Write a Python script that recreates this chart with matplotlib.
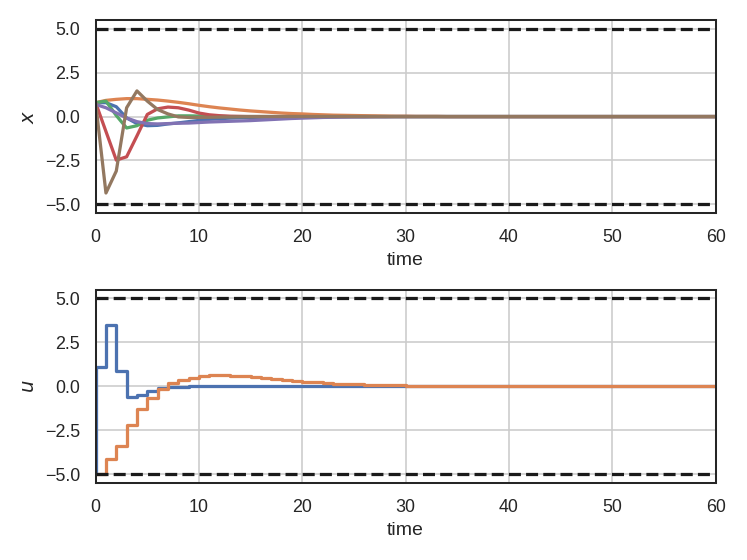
import numpy as np
import matplotlib
matplotlib.use("Agg")
import matplotlib.pyplot as plt
import seaborn as sns

# time grid and bounds
t = list(range(61))
x_max = 5.0
u_max = 5.0

# states
x1 = [0.79, 0.79, 0.56, -0.08, -0.40, -0.52, -0.50, -0.42, -0.36, -0.29, -0.22,
      -0.16, -0.12, -0.09, -0.07, -0.05, -0.04, -0.03, -0.02, -0.02, -0.01,
      -0.01, 0, 0, 0, 0, 0, 0, 0, 0, 0, 0, 0, 0, 0, 0, 0, 0, 0, 0, 0,
      0, 0, 0, 0, 0, 0, 0, 0, 0, 0, 0, 0, 0, 0, 0, 0, 0, 0, 0, 0]
x2 = [0.79, 0.92, 0.98, 1.02, 1.02, 0.98, 0.94, 0.88, 0.81, 0.73, 0.64,
      0.56, 0.49, 0.43, 0.37, 0.32, 0.28, 0.24, 0.20, 0.17, 0.15,
      0.12, 0.10, 0.08, 0.07, 0.06, 0.05, 0.04, 0.03, 0.02, 0.02,
      0.01, 0.01, 0.01, 0, 0, 0, 0, 0, 0, 0,
      0, 0, 0, 0, 0, 0, 0, 0, 0, 0, 0, 0, 0, 0, 0, 0, 0, 0, 0, 0]
x3 = [0.79, 0.88, 0.06, -0.65, -0.52, -0.21, -0.08, -0.02, 0.04, 0.04, 0.03,
      0.02, 0.01, 0, 0, 0, 0, 0, 0, 0, 0, 0, 0, 0, 0, 0, 0, 0, 0, 0, 0,
      0, 0, 0, 0, 0, 0, 0, 0, 0, 0, 0, 0, 0, 0, 0, 0, 0, 0, 0, 0,
      0, 0, 0, 0, 0, 0, 0, 0, 0, 0]
x4 = [0.79, -0.85, -2.48, -2.29, -1.10, 0.12, 0.44, 0.54, 0.50, 0.37, 0.20,
      0.10, 0.05, 0.02, 0.01, 0, 0, 0, 0, 0, 0, 0, 0, 0, 0, 0, 0, 0, 0, 0, 0,
      0, 0, 0, 0, 0, 0, 0, 0, 0, 0, 0, 0, 0, 0, 0, 0, 0, 0, 0, 0,
      0, 0, 0, 0, 0, 0, 0, 0, 0, 0]
x5 = [0.69, 0.50, 0.21, -0.08, -0.29, -0.40, -0.42, -0.40, -0.38, -0.37, -0.34,
      -0.31, -0.29, -0.27, -0.25, -0.23, -0.20, -0.17, -0.14, -0.11, -0.09,
      -0.07, -0.05, -0.04, -0.03, -0.02, -0.02, -0.01, -0.01, 0, 0,
      0, 0, 0, 0, 0, 0, 0, 0, 0, 0, 0, 0, 0, 0, 0, 0, 0, 0, 0, 0,
      0, 0, 0, 0, 0, 0, 0, 0, 0, 0]
x6 = [0.79, -4.35, -3.10, 0.50, 1.46, 0.88, 0.40, 0.15, -0.02, -0.05, -0.05,
      -0.04, -0.03, -0.02, -0.01, 0, 0, 0, 0, 0, 0, 0, 0, 0, 0, 0, 0, 0, 0, 0, 0,
      0, 0, 0, 0, 0, 0, 0, 0, 0, 0, 0, 0, 0, 0, 0, 0, 0, 0, 0, 0,
      0, 0, 0, 0, 0, 0, 0, 0, 0, 0]

# inputs, drawn as steps
u1 = [-5.0, 1.09, 3.50, 0.86, -0.60, -0.47, -0.29, -0.12, -0.05, -0.02, -0.01,
      0, 0, 0, 0, 0, 0, 0, 0, 0, 0, 0, 0, 0, 0, 0, 0, 0, 0, 0, 0,
      0, 0, 0, 0, 0, 0, 0, 0, 0, 0, 0, 0, 0, 0, 0, 0, 0, 0, 0, 0,
      0, 0, 0, 0, 0, 0, 0, 0, 0, 0]
u2 = [-5.0, -5.0, -4.15, -3.42, -2.20, -1.30, -0.66, -0.14, 0.18, 0.37, 0.50,
      0.58, 0.62, 0.63, 0.61, 0.57, 0.52, 0.47, 0.42, 0.37, 0.30,
      0.26, 0.22, 0.19, 0.16, 0.13, 0.11, 0.09, 0.07, 0.06, 0.05,
      0.04, 0.03, 0.03, 0.02, 0.02, 0.01, 0.01, 0.01, 0, 0,
      0, 0, 0, 0, 0, 0, 0, 0, 0, 0, 0, 0, 0, 0, 0, 0, 0, 0, 0, 0]

sns.set_theme(style="white")
plt.rcParams['font.family'] = ['Liberation Sans', 'DejaVu Sans']
plt.rcParams['lines.linewidth'] = 2.0

fig = plt.figure(figsize=(6.4, 4.8), dpi=116.72)
ax1 = fig.add_axes([0.128, 0.619, 0.830, 0.345])
ax2 = fig.add_axes([0.128, 0.1375, 0.830, 0.345])

for xs in [x1, x2, x3, x4, x5, x6]:
    ax1.plot(t, xs)
ax1.hlines([x_max, -x_max], t[0], t[-1], colors='k', linestyles='--', lw=2)
ax1.set_xlim(0, 60)
ax1.set_xlabel('time')
ax1.set_ylabel('$x$')
ax1.grid(True)

for us in [u1, u2]:
    ax2.step(t, us, where='pre')
ax2.hlines([u_max, -u_max], t[0], t[-1], colors='k', linestyles='--', lw=2)
ax2.set_xlim(0, 60)
ax2.set_xlabel('time')
ax2.set_ylabel('$u$')
ax2.grid(True)

fig.savefig('out.png', dpi=116.72)
